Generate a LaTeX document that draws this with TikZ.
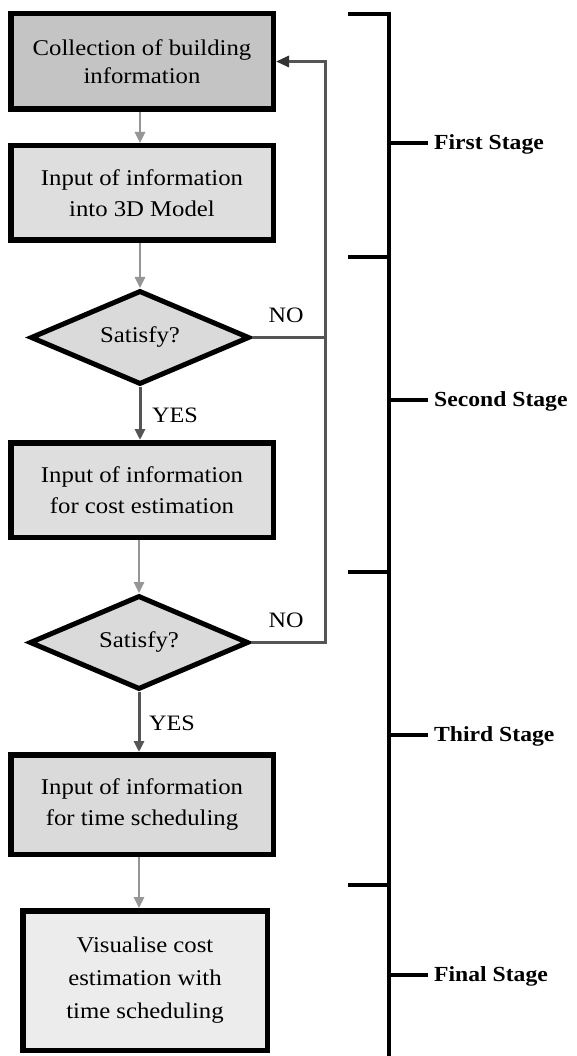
\documentclass[tikz,border=0pt]{standalone}
\usepackage{fontspec}
\setmainfont{Liberation Serif}[FakeStretch=1.1]
\usetikzlibrary{shapes.geometric,arrows.meta}
\definecolor{fillA}{RGB}{196,196,196}
\definecolor{fillB}{RGB}{222,222,222}
\definecolor{fillD}{RGB}{218,218,218}
\definecolor{fillC}{RGB}{218,218,218}
\definecolor{fillE}{RGB}{236,236,236}
\definecolor{flowgray}{RGB}{150,150,150}
\definecolor{dkgray}{RGB}{85,85,85}
\begin{document}
\begin{tikzpicture}[x=1pt,y=-1pt,
  box/.style={draw=black,line width=5.5pt,rectangle,minimum width=262.5pt,align=center,inner sep=0pt,font=\fontsize{22.5}{31}\selectfont},
  dia/.style={draw=black,line width=5pt,diamond,aspect=2.3,minimum width=219pt,minimum height=94pt,inner sep=0pt,fill=fillD,font=\fontsize{22.5}{31}\selectfont},
  flow/.style={draw=flowgray,line width=2.5pt,-{Triangle[length=11pt,width=10pt]}},
  yesarrow/.style={draw=dkgray,line width=3pt,-{Triangle[length=11pt,width=10pt]}},
  loopline/.style={draw=dkgray,line width=3pt},
  lbl/.style={font=\fontsize{22}{26}\selectfont},
  stg/.style={font=\bfseries\fontsize{21.5}{26}\selectfont,anchor=base west,inner sep=0pt},
  brk/.style={line width=4.5pt,black}
]
\fill[white] (0,0) rectangle (576,1056);
\useasboundingbox (0,0) rectangle (576,1056);

\node[box,fill=fillA,minimum height=95.5pt,font=\fontsize{22.5}{28}\selectfont] (b1) at (142,61.5) {Collection of building\\information};
\node[box,fill=fillB,minimum height=94.5pt] (b2) at (142,193) {Input of information\\into 3D Model};
\node[dia] (d1) at (140,337.5) {Satisfy?};
\node[box,fill=fillB,minimum height=94.5pt] (b3) at (142,490) {Input of information\\for cost estimation};
\node[dia] (d2) at (139,642.5) {Satisfy?};
\node[box,fill=fillC,minimum height=99.5pt] (b4) at (142,804.5) {Input of information\\for time scheduling};
\node[box,fill=fillE,minimum width=244.5pt,minimum height=139.5pt,font=\fontsize{22.5}{33}\selectfont] (b5) at (145,980.5) {Visualise cost\\estimation with\\time scheduling};

\draw[flow] (b1.south -| d1.north) -- (b2.north -| d1.north);
\draw[flow] (b2.south -| d1.north) -- (d1.north);
\draw[yesarrow] (d1.south) -- (b3.north -| d1.south);
\draw[flow] (b3.south -| d2.north) -- (d2.north);
\draw[yesarrow] (d2.south) -- (b4.north -| d2.south);
\draw[flow] (b4.south -| d2.north) -- (b5.north -| d2.north);

\coordinate (lp) at (325,62);
\draw[loopline] (d1.east) -- (d1.east -| lp);
\draw[loopline,-{Triangle[length=13pt,width=11pt,color=black!80]}] (d2.east) -| (lp |- b1.east) -- (b1.east);

\node[lbl] (no1) at (286,315) {NO};
\node[lbl] (no2) at (286,620) {NO};
\node[lbl] (yes1) at (175,415) {YES};
\node[lbl] (yes2) at (172,723) {YES};

\draw[brk] (348,14) -- (389,14) -- (389,1056);
\draw[brk] (348,257) -- (389,257);
\draw[brk] (348,572) -- (389,572);
\draw[brk] (348,885) -- (389,885);
\draw[brk] (389,143) -- (428,143);
\draw[brk] (389,400) -- (428,400);
\draw[brk] (389,735) -- (428,735);
\draw[brk] (389,975) -- (428,975);
\node[stg] (s1) at (434,149.5) {First Stage};
\node[stg] (s2) at (434,406.5) {Second Stage};
\node[stg] (s3) at (434,741.5) {Third Stage};
\node[stg] (s4) at (434,981.5) {Final Stage};
\end{tikzpicture}
\end{document}
